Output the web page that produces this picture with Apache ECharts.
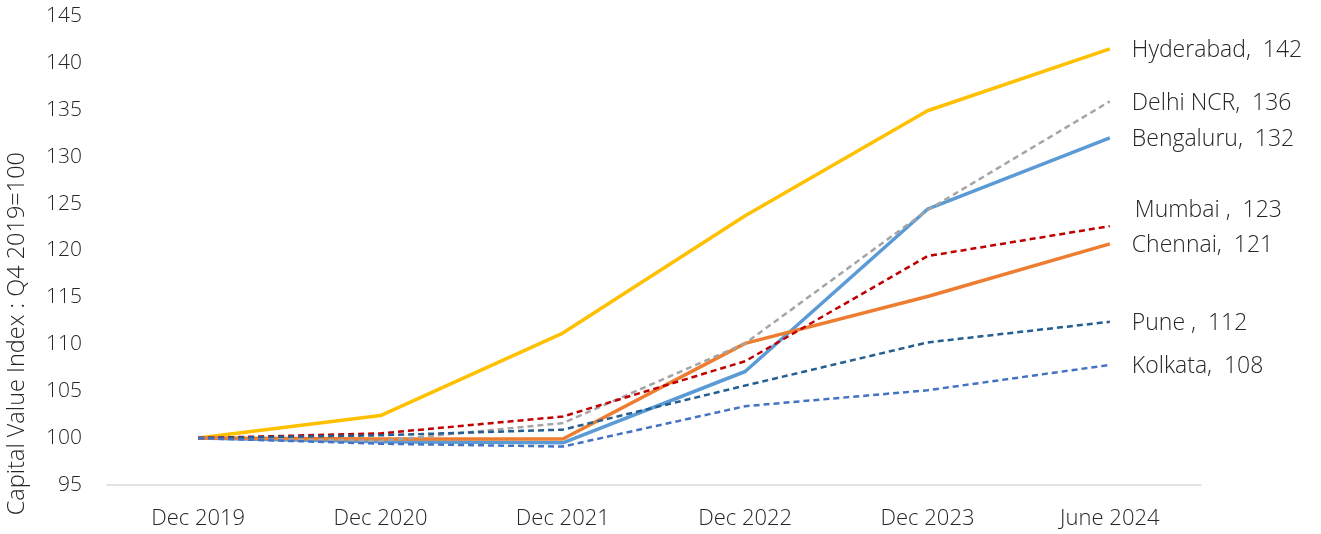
<!DOCTYPE html>
<html>
<head>
<meta charset="utf-8">
<script src="https://cdn.jsdelivr.net/npm/echarts@6/dist/echarts.min.js"></script>
<style>
  html, body { margin: 0; padding: 0; background: #fff; }
  #chart { width: 1321px; height: 534px; }
</style>
</head>
<body>
<div id="chart"></div>
<script>
// Capital value index by city, Q4 2019 = 100
const categories = ['Dec 2019', 'Dec 2020', 'Dec 2021', 'Dec 2022', 'Dec 2023', 'June 2024'];

const hyderabad = [100, 102.4, 111.2, 123.7, 134.9, 141.5];
const delhiNcr  = [100, 99.7, 101.6, 110.1, 124.3, 135.9];
const bengaluru = [100, 99.6, 99.5, 107.1, 124.4, 132.0];
const mumbai    = [100, 100.5, 102.3, 108.2, 119.4, 122.6];
const chennai   = [100, 99.9, 99.9, 110.1, 115.1, 120.7];
const pune      = [100, 100.3, 100.9, 105.6, 110.2, 112.4];
const kolkata   = [100, 99.4, 99.1, 103.4, 105.1, 107.8];

const seriesNames = ['Hyderabad', 'Delhi NCR', 'Bengaluru', 'Mumbai ', 'Chennai', 'Pune ', 'Kolkata'];
const yTicks = { min: 95, max: 145, interval: 5 };

const FONT = '"Open Sans", Lato, sans-serif';
const TEXT = '#262626';

function lineSeries(name, data, color, width, dashed, labelOffset) {
  return {
    name: name,
    type: 'line',
    data: data,
    symbol: 'none',
    smooth: false,
    lineStyle: { color: color, width: width, type: dashed ? [6, 4] : 'solid', cap: 'butt' },
    itemStyle: { color: color },
    z: dashed ? 3 : 2,
    endLabel: {
      show: true,
      distance: 22,
      offset: labelOffset || [0, 2],
      color: TEXT,
      fontFamily: FONT,
      fontWeight: 300,
      fontSize: 23,
      formatter: p => p.seriesName + ',  ' + Math.round(p.value)
    },
    emphasis: { disabled: true }
  };
}

const chart = echarts.init(document.getElementById('chart'), null, { renderer: 'canvas' });
chart.setOption({
  animation: false,
  backgroundColor: '#ffffff',
  grid: { left: 107, right: 120, top: 16, bottom: 49, containLabel: false },
  xAxis: {
    type: 'category',
    data: categories,
    boundaryGap: true,
    axisLine: { show: true, lineStyle: { color: '#d9d9d9', width: 1.5 } },
    axisTick: { show: false },
    axisLabel: { color: TEXT, fontFamily: FONT, fontWeight: 300, fontSize: 22, margin: 23 }
  },
  yAxis: {
    type: 'value',
    min: yTicks.min,
    max: yTicks.max,
    interval: yTicks.interval,
    axisLine: { show: false },
    axisTick: { show: false },
    splitLine: { show: false },
    axisLabel: { color: TEXT, fontFamily: FONT, fontWeight: 300, fontSize: 21, margin: 25 }
  },
  graphic: [{
    type: 'text',
    left: 5,
    top: 152,
    rotation: Math.PI / 2,
    style: {
      text: 'Capital Value Index : Q4 2019=100',
      fill: TEXT,
      font: '300 23.5px ' + FONT
    }
  }],
  series: [
    lineSeries(seriesNames[0], hyderabad, '#ffc000', 3.5, false),
    lineSeries(seriesNames[1], delhiNcr, '#a5a5a5', 2.5, true),
    lineSeries(seriesNames[2], bengaluru, '#5b9bd5', 3.5, false),
    lineSeries(seriesNames[3], mumbai, '#c00000', 2.5, true, [3, -16]),
    lineSeries(seriesNames[4], chennai, '#ed7d31', 3.5, false),
    lineSeries(seriesNames[5], pune, '#255e91', 2.5, true),
    lineSeries(seriesNames[6], kolkata, '#4472c4', 2.5, true)
  ]
});
</script>
</body>
</html>
